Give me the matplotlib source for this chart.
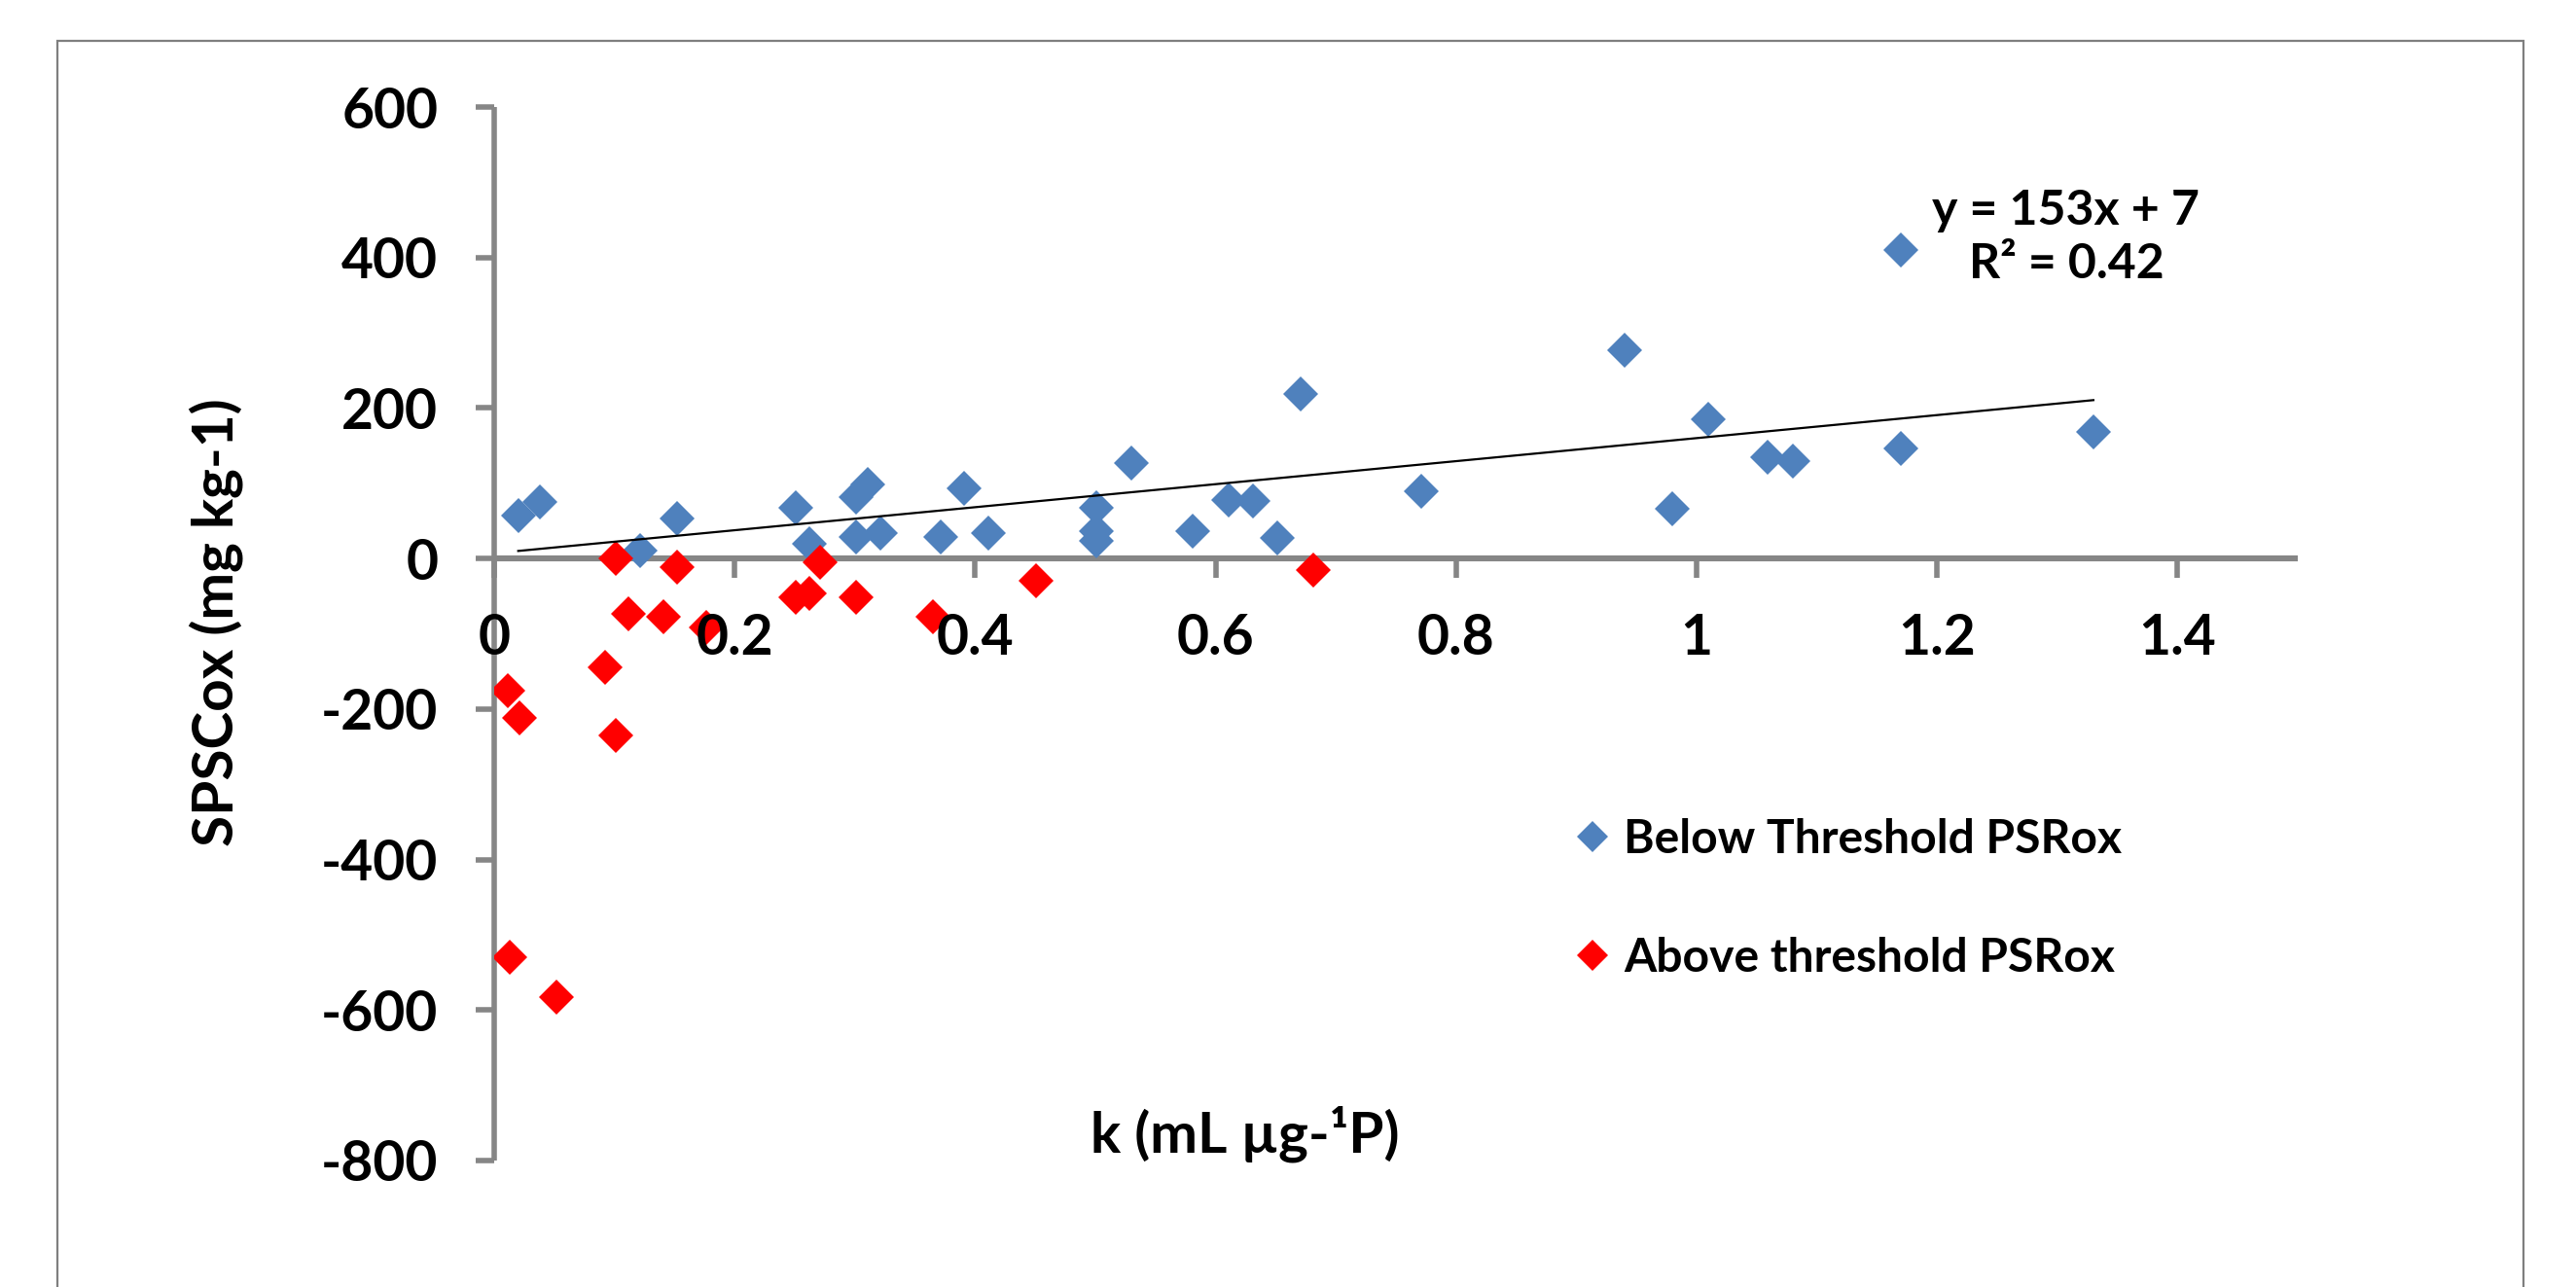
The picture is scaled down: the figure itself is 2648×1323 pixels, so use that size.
import matplotlib
matplotlib.use("Agg")
import matplotlib.pyplot as plt
from matplotlib.patches import Rectangle
import numpy as np

# ---- data ----
below_x = [0.02, 0.038, 0.121, 0.152, 0.251, 0.262, 0.301, 0.311, 0.301, 0.321,
           0.371, 0.391, 0.411, 0.501, 0.501, 0.501, 0.530, 0.581, 0.611, 0.631,
           0.651, 0.671, 0.771, 0.940, 0.980, 1.010, 1.059, 1.080, 1.170, 1.170, 1.330]
below_y = [57, 75, 11, 53, 68, 20, 82, 98, 28, 34,
           28, 93, 34, 67, 37, 23, 127, 36, 78, 76,
           27, 219, 90, 277, 66, 185, 135, 130, 410, 146, 168]

above_x = [0.101, 0.152, 0.112, 0.141, 0.176, 0.092, 0.011, 0.021, 0.101, 0.251,
           0.262, 0.271, 0.301, 0.365, 0.451, 0.681, 0.013, 0.052]
above_y = [0, -11, -74, -77, -92, -144, -176, -212, -235, -52,
           -46, -5, -52, -78, -30, -15, -530, -583]

trend_slope = 153
trend_intercept = 7
trend_r2 = 0.42

x_ticks = [0, 0.2, 0.4, 0.6, 0.8, 1.0, 1.2, 1.4]
x_tick_labels = ["0", "0.2", "0.4", "0.6", "0.8", "1", "1.2", "1.4"]
y_ticks = [-800, -600, -400, -200, 0, 200, 400, 600]
y_tick_labels = ["-800", "-600", "-400", "-200", "0", "200", "400", "600"]

series_labels = ["Below Threshold PSRox", "Above threshold PSRox"]
x_label = "k (mL \u00b5g-\u00b9P)"
y_label = "SPSCox (mg kg-1)"

# ---- style ----
plt.rcParams['font.family'] = ['Lato', 'DejaVu Sans']
plt.rcParams['font.weight'] = 'bold'
plt.rcParams['axes.unicode_minus'] = False

W, H = 2648, 1323
DPI = 200
fig = plt.figure(figsize=(W / DPI, H / DPI), dpi=DPI)
fig.patch.set_facecolor('white')

# outer chart frame
fig.add_artist(Rectangle((59 / W, -0.05), (2594 - 59) / W, 0.05 + 1 - 42 / H,
                         transform=fig.transFigure, fill=False,
                         edgecolor='#7f7f7f', linewidth=0.8))

ax_left, ax_right = 508 / W, 2362 / W
ax_top, ax_bottom = 1 - 110 / H, 1 - 1193 / H
ax = fig.add_axes([ax_left, ax_bottom, ax_right - ax_left, ax_top - ax_bottom])
ax.set_facecolor('none')

axis_color = '#868686'
blue = '#4F81BD'
red = '#FF0000'
ms = 9.2

ax.plot(below_x, below_y, linestyle='none', marker='D', markersize=ms,
        color=blue, markeredgewidth=0, label=series_labels[0], zorder=3)
ax.plot(above_x, above_y, linestyle='none', marker='D', markersize=ms,
        color=red, markeredgewidth=0, label=series_labels[1], zorder=3.1)

tx = np.array([min(below_x), max(below_x)])
ax.plot(tx, trend_slope * tx + trend_intercept, color='black', linewidth=0.8,
        zorder=3.5)

ax.set_xlim(0, 1.5)
ax.set_ylim(-800, 600)

for s in ['top', 'right']:
    ax.spines[s].set_visible(False)
ax.spines['bottom'].set_position(('data', 0))
ax.spines['left'].set_color(axis_color)
ax.spines['bottom'].set_color(axis_color)
ax.spines['left'].set_linewidth(2.0)
ax.spines['bottom'].set_linewidth(2.2)
ax.spines['left'].set_capstyle('butt')
ax.spines['bottom'].set_capstyle('butt')

ax.set_xticks(x_ticks)
ax.set_xticklabels(x_tick_labels)
ax.set_yticks(y_ticks)
ax.set_yticklabels(y_tick_labels)
ax.tick_params(axis='x', direction='out', length=7.2, width=2.0,
               color=axis_color, pad=13, labelsize=20.5, labelcolor='black')
ax.tick_params(axis='y', direction='out', length=6.8, width=2.0,
               color=axis_color, pad=14, labelsize=20.5, labelcolor='black')
for lbl in ax.get_xticklabels() + ax.get_yticklabels():
    lbl.set_fontweight('bold')
ax.xaxis.set_zorder(4)

ax.set_xlabel(x_label, fontsize=21, fontweight='bold')
ax.xaxis.set_label_coords((1280 - 508) / (2362 - 508), (1193 - 1166) / (1193 - 110))
ax.xaxis.label.set_verticalalignment('center')
ax.set_ylabel(y_label, fontsize=21, fontweight='bold')
ax.yaxis.set_label_coords((222 - 508) / (2362 - 508), (1193 - 640) / (1193 - 110))
ax.yaxis.label.set_verticalalignment('center')

ax.text((2124 - 508) / (2362 - 508), (1193 - 194) / (1193 - 110),
        "y = %dx + %d\nR\u00b2 = %.2f" % (trend_slope, trend_intercept, trend_r2),
        transform=ax.transAxes, ha='center', va='top', multialignment='center',
        fontsize=18, fontweight='bold', linespacing=1.27)

leg = ax.legend(loc='upper left', bbox_to_anchor=(1619 / W, 1 - 841 / H),
                bbox_transform=fig.transFigure, frameon=False, borderpad=0,
                borderaxespad=0, handlelength=0.75, handletextpad=0.3,
                labelspacing=1.62, markerscale=0.87,
                prop={'size': 17.3, 'weight': 'bold'})

fig.savefig('out.png', dpi=DPI, facecolor='white')
